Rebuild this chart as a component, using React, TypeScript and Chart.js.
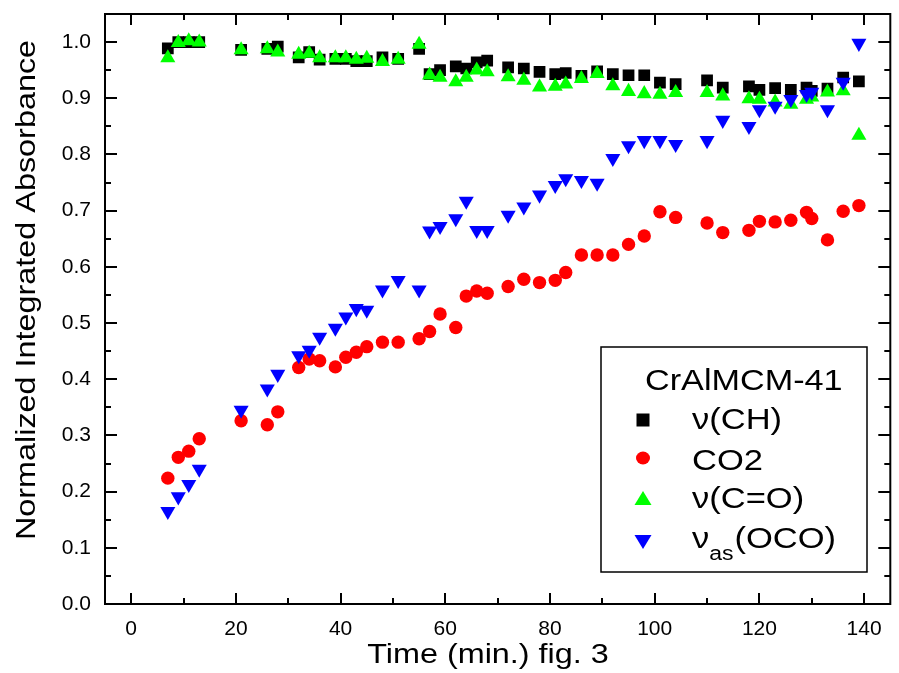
import React, { useEffect, useRef } from 'react';
import { Chart, registerables } from 'chart.js';

Chart.register(...registerables);

// ---- data ----
const TIMES = [7, 9, 11, 13, 21, 26, 28, 32, 34, 36, 39, 41, 43, 45, 48, 51, 55, 57, 59, 62, 64, 66, 68, 72, 75, 78, 81, 83, 86, 89, 92, 95, 98, 101, 104, 110, 113, 118, 120, 123, 126, 129, 130, 133, 136, 139];

const NU_CH = [0.989, 1.0, 1.0, 1.0, 0.986, 0.988, 0.992, 0.973, 0.982, 0.969, 0.970, 0.970, 0.966, 0.966, 0.973, 0.970, 0.988, 0.943, 0.950, 0.957, 0.953, 0.964, 0.967, 0.955, 0.953, 0.947, 0.943, 0.945, 0.940, 0.948, 0.943, 0.941, 0.941, 0.928, 0.925, 0.932, 0.919, 0.921, 0.915, 0.918, 0.915, 0.919, 0.913, 0.917, 0.937, 0.930];

const CO2 = [0.224, 0.261, 0.272, 0.294, 0.326, 0.319, 0.342, 0.421, 0.436, 0.433, 0.422, 0.439, 0.448, 0.458, 0.466, 0.466, 0.472, 0.485, 0.516, 0.492, 0.548, 0.557, 0.553, 0.565, 0.578, 0.572, 0.576, 0.590, 0.621, 0.621, 0.621, 0.640, 0.655, 0.698, 0.688, 0.678, 0.661, 0.665, 0.681, 0.680, 0.683, 0.697, 0.686, 0.648, 0.699, 0.709];

const NU_CO = [0.972, 0.999, 1.002, 1.0, 0.986, 0.988, 0.982, 0.978, 0.980, 0.972, 0.972, 0.972, 0.969, 0.971, 0.965, 0.969, 0.996, 0.941, 0.937, 0.929, 0.937, 0.950, 0.947, 0.938, 0.932, 0.920, 0.921, 0.925, 0.935, 0.944, 0.922, 0.912, 0.908, 0.907, 0.910, 0.910, 0.904, 0.899, 0.898, 0.893, 0.889, 0.898, 0.902, 0.911, 0.913, 0.834];

const NU_AS_OCO = [0.165, 0.191, 0.213, 0.240, 0.345, 0.383, 0.409, 0.442, 0.452, 0.475, 0.491, 0.511, 0.526, 0.523, 0.559, 0.576, 0.559, 0.664, 0.672, 0.686, 0.717, 0.665, 0.665, 0.692, 0.707, 0.728, 0.745, 0.757, 0.754, 0.749, 0.793, 0.816, 0.825, 0.825, 0.818, 0.825, 0.861, 0.850, 0.880, 0.886, 0.898, 0.907, 0.911, 0.880, 0.929, 0.998];

const X_TICKS = [0, 20, 40, 60, 80, 100, 120, 140];
const X_MINOR = [10, 30, 50, 70, 90, 110, 130];
const Y_TICKS = [0, 0.1, 0.2, 0.3, 0.4, 0.5, 0.6, 0.7, 0.8, 0.9, 1.0];
const Y_MINOR = [0.05, 0.15, 0.25, 0.35, 0.45, 0.55, 0.65, 0.75, 0.85, 0.95];

const X_TITLE = 'Time (min.) fig. 3';
const Y_TITLE = 'Normalized Integrated Absorbance';
const LEGEND_TITLE = 'CrAlMCM-41';

const FONT = '"Liberation Sans", Arial, Helvetica, sans-serif';

function stretchedText(
  ctx: CanvasRenderingContext2D,
  text: string,
  x: number,
  y: number,
  align: CanvasTextAlign,
  size: number,
  sx = 1.15,
  rotate = 0
) {
  ctx.save();
  ctx.translate(x, y);
  if (rotate) ctx.rotate(rotate);
  ctx.scale(sx, 1);
  ctx.font = `${size}px ${FONT}`;
  ctx.textAlign = align;
  ctx.textBaseline = 'alphabetic';
  ctx.fillStyle = '#000';
  ctx.fillText(text, 0, 0);
  const w = ctx.measureText(text).width * sx;
  ctx.restore();
  return w;
}

const framePlugin = {
  id: 'originFrame',
  afterDraw(chart: any) {
    const { ctx, chartArea: a, scales } = chart;
    const xs = scales.x;
    const ys = scales.y;
    ctx.save();
    ctx.strokeStyle = '#000';
    ctx.lineWidth = 2;
    ctx.strokeRect(a.left, a.top, a.right - a.left, a.bottom - a.top);
    ctx.beginPath();
    const xt = (v: number, len: number) => {
      const px = Math.round(xs.getPixelForValue(v));
      ctx.moveTo(px, a.bottom);
      ctx.lineTo(px, a.bottom - len);
      ctx.moveTo(px, a.top);
      ctx.lineTo(px, a.top + len);
    };
    const yt = (v: number, len: number) => {
      const py = Math.round(ys.getPixelForValue(v));
      ctx.moveTo(a.left, py);
      ctx.lineTo(a.left + len, py);
      ctx.moveTo(a.right, py);
      ctx.lineTo(a.right - len, py);
    };
    X_TICKS.forEach((v) => xt(v, 11));
    X_MINOR.forEach((v) => xt(v, 6));
    Y_TICKS.forEach((v) => yt(v, 12));
    Y_MINOR.forEach((v) => yt(v, 6));
    ctx.stroke();

    // axis titles
    stretchedText(ctx, X_TITLE, 488, 663, 'center', 28, 1.156);
    stretchedText(ctx, Y_TITLE, 35, 290, 'center', 28, 1.156, -Math.PI / 2);

    // legend box
    ctx.lineWidth = 1.5;
    ctx.strokeRect(601, 347, 266, 225);
    stretchedText(ctx, LEGEND_TITLE, 645, 390, 'left', 30, 1.14);

    const mx = 643;
    ctx.fillStyle = '#000';
    ctx.fillRect(mx - 6.5, 420 - 6.5, 13, 13);
    ctx.fillStyle = '#ff0000';
    ctx.beginPath();
    ctx.ellipse(mx, 458, 7, 6.5, 0, 0, Math.PI * 2);
    ctx.fill();
    ctx.fillStyle = '#00ff00';
    ctx.beginPath();
    ctx.moveTo(mx, 491);
    ctx.lineTo(mx + 8.5, 505);
    ctx.lineTo(mx - 8.5, 505);
    ctx.closePath();
    ctx.fill();
    ctx.fillStyle = '#0000ff';
    ctx.beginPath();
    ctx.moveTo(mx - 8.5, 535);
    ctx.lineTo(mx + 8.5, 535);
    ctx.lineTo(mx, 549);
    ctx.closePath();
    ctx.fill();

    stretchedText(ctx, '\u03bd(CH)', 692, 429, 'left', 30, 1.15);
    stretchedText(ctx, 'CO2', 692, 470, 'left', 30, 1.15);
    stretchedText(ctx, '\u03bd(C=O)', 692, 508, 'left', 30, 1.15);
    const w1 = stretchedText(ctx, '\u03bd', 692, 548, 'left', 30, 1.15);
    const w2 = stretchedText(ctx, 'as', 692 + w1, 560, 'left', 20, 1.15);
    stretchedText(ctx, '(OCO)', 692 + w1 + w2 + 1, 548, 'left', 30, 1.15);
    ctx.restore();
  },
};

function pts(vals: number[]) {
  return TIMES.map((t, i) => ({ x: t, y: vals[i] }));
}

export default function App() {
  const ref = useRef<HTMLCanvasElement | null>(null);

  useEffect(() => {
    document.body.style.margin = '0';
    const canvas = ref.current;
    if (!canvas) return;
    const chart = new Chart(canvas, {
      type: 'scatter',
      data: {
        datasets: [
          {
            label: '\u03bd(CH)',
            data: pts(NU_CH),
            pointStyle: 'rect',
            pointRadius: 8.3,
            backgroundColor: '#000000',
            borderWidth: 0,
            order: 4,
          },
          {
            label: 'CO2',
            data: pts(CO2),
            pointStyle: 'circle',
            pointRadius: 6.7,
            backgroundColor: '#ff0000',
            borderWidth: 0,
            order: 3,
          },
          {
            label: '\u03bd(C=O)',
            data: pts(NU_CO),
            pointStyle: 'triangle',
            pointRadius: 8.7,
            backgroundColor: '#00ff00',
            borderWidth: 0,
            order: 2,
          },
          {
            label: '\u03bdas(OCO)',
            data: pts(NU_AS_OCO),
            pointStyle: 'triangle',
            pointRotation: 180,
            pointRadius: 8.7,
            backgroundColor: '#0000ff',
            borderWidth: 0,
            order: 1,
          },
        ],
      },
      options: {
        responsive: false,
        animation: false,
        devicePixelRatio: 1,
        layout: { padding: { top: 14, right: 3, left: 0, bottom: 0 } },
        plugins: {
          legend: { display: false },
          tooltip: { enabled: false },
        },
        scales: {
          x: {
            type: 'linear',
            min: -5,
            max: 145,
            grid: { display: false, drawTicks: false },
            border: { display: false },
            afterBuildTicks: (s: any) => {
              s.ticks = X_TICKS.map((v) => ({ value: v }));
            },
            afterFit: (s: any) => {
              s.height = 69;
              s.paddingLeft = 0;
              s.paddingRight = 0;
              s.paddingTop = 0;
              s.paddingBottom = 0;
            },
            ticks: {
              autoSkip: false,
              maxRotation: 0,
              padding: 13,
              color: '#000',
              font: { size: 21, family: FONT },
              callback: (v: any) => String(v),
            },
          },
          y: {
            type: 'linear',
            min: 0,
            max: 1.05,
            grid: { display: false, drawTicks: false },
            border: { display: false },
            afterBuildTicks: (s: any) => {
              s.ticks = Y_TICKS.map((v) => ({ value: v }));
            },
            afterFit: (s: any) => {
              s.width = 105;
              s.paddingLeft = 0;
              s.paddingRight = 0;
              s.paddingTop = 0;
              s.paddingBottom = 0;
            },
            ticks: {
              autoSkip: false,
              padding: 14,
              color: '#000',
              font: { size: 21, family: FONT },
              callback: (v: any) => Number(v).toFixed(1),
            },
          },
        },
      },
      plugins: [framePlugin],
    });
    return () => chart.destroy();
  }, []);

  return (
    <div style={{ position: 'absolute', left: 0, top: 0, width: 899, height: 673, background: '#fff' }}>
      <canvas ref={ref} width={899} height={673} style={{ display: 'block' }} />
    </div>
  );
}
